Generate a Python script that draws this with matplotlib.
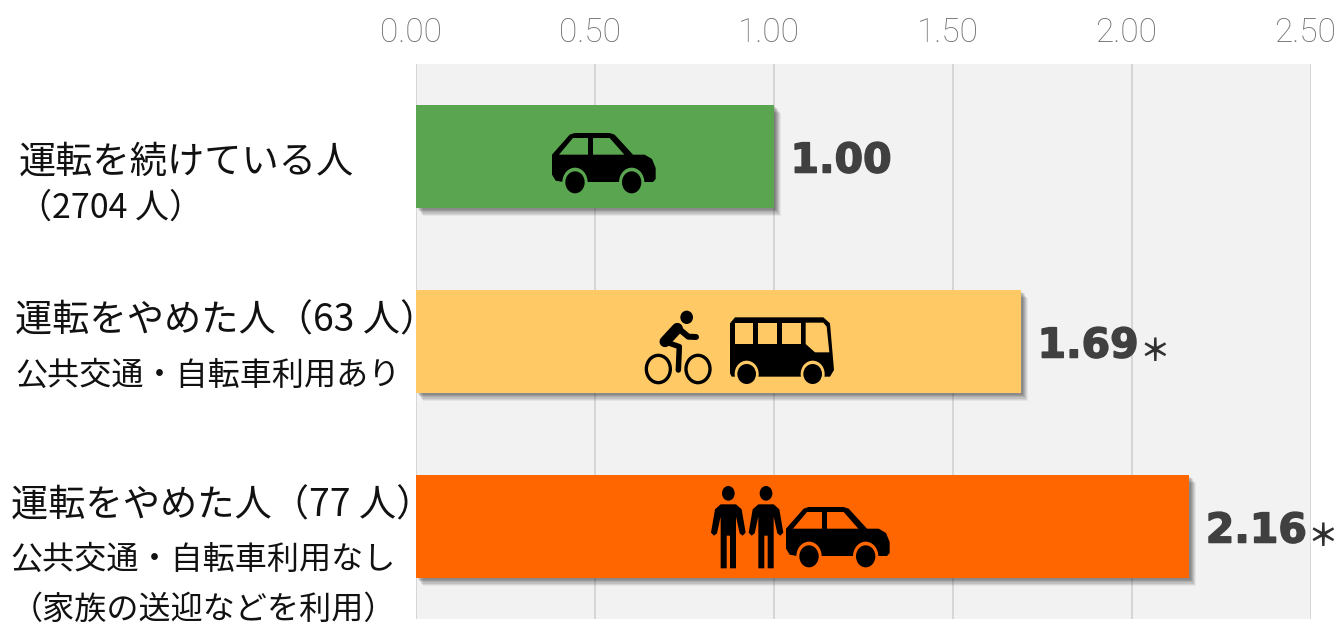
import matplotlib
matplotlib.use("Agg")
import matplotlib.pyplot as plt
import matplotlib.patheffects as pe
from matplotlib.patches import Polygon, Ellipse
from matplotlib.transforms import offset_copy, ScaledTranslation

CJK = ['Noto Sans CJK JP', 'DejaVu Sans']

values = [1.00, 1.69, 2.16]
value_labels = ['1.00', '1.69', '2.16']
significant = [False, True, True]
colors = ['#5aa54f', '#ffca66', '#ff6600']
ticks = [0, 0.5, 1.0, 1.5, 2.0, 2.5]
tick_labels = ['0.00', '0.50', '1.00', '1.50', '2.00', '2.50']
label_lines = [
    ('運転を続けている人', 19, 162, 26.8),
    ('（2704 人）', 18, 208, 24.5),
    ('運転をやめた人（63 人）', 15, 321, 26.8),
    ('公共交通・自転車利用あり', 15, 376, 23.1),
    ('運転をやめた人（77 人）', 11, 506, 26.8),
    ('公共交通・自転車利用なし', 10, 560, 23.1),
    ('（家族の送迎などを利用）', 11, 610, 23.1),
]

W, H = 1338, 624
fig = plt.figure(figsize=(W / 100, H / 100), dpi=100, facecolor='white')
ax = fig.add_axes([416 / W, 1 - 619 / H, (1311 - 416) / W, (619 - 64) / H])
ax.set_facecolor('#f2f2f2')
ax.set_xlim(0, 2.5)
ax.set_ylim(2.5, -0.5)
ax.set_yticks([])
ax.xaxis.tick_top()
ax.set_xticks(ticks, tick_labels, fontsize=24, color='#6e6e6e',
              family=['Roboto', 'DejaVu Sans'], fontweight='light')
ax.tick_params(axis='x', length=0, pad=11)
shift = ScaledTranslation(-5.5 / 100, 0, fig.dpi_scale_trans)
for lab in ax.get_xticklabels():
    lab.set_transform(lab.get_transform() + shift)
ax.grid(axis='x', color='#d4d4d4', lw=1.3, zorder=0)
ax.set_axisbelow(True)
for s in ax.spines.values():
    s.set_visible(False)

shadow = [pe.SimplePatchShadow(offset=(d * 0.72, -d * 0.8), alpha=a, shadow_rgbFace='k')
          for d, a in ((7, 0.05), (6, 0.07), (5, 0.09), (4, 0.1), (3, 0.1), (2, 0.1))] + [pe.Normal()]
bars = ax.barh(range(3), values, height=103 / 185, color=colors, zorder=3)
for b in bars:
    b.set_path_effects(shadow)

heavy = [pe.withStroke(linewidth=1.1, foreground='#404040')]
for i, v in enumerate(values):
    tr = offset_copy(ax.transData, fig=fig, x=16.5 * 0.72, y=-5 * 0.72, units='points')
    ax.text(v, i, value_labels[i], transform=tr, ha='left', va='center', fontsize=29.5,
            fontweight='bold', family='DejaVu Sans', color='#404040', zorder=5,
            clip_on=False, path_effects=heavy)
    if significant[i]:
        tr2 = offset_copy(ax.transData, fig=fig, x=118 * 0.72, y=-10 * 0.72, units='points')
        ax.text(v, i, '＊', transform=tr2, ha='left', va='center', fontsize=22,
                family=CJK, fontweight='bold', color='#303030', zorder=5, clip_on=False)

# overlay in pixel coordinates, for the pictograms and the row captions
ov = fig.add_axes([0, 0, 1, 1], zorder=10)
ov.set_xlim(0, W)
ov.set_ylim(H, 0)
ov.axis('off')

for txt, x, y, fs in label_lines:
    ov.text(x, y, txt, fontsize=fs, family=CJK, color='#111111', ha='left', va='center')


def pts(origin, seq):
    return [(origin[0] + a / 3, origin[1] + b / 3) for a, b in seq]


def poly(origin, seq, fc):
    ov.add_patch(Polygon(pts(origin, seq), closed=True, fc=fc, ec='none'))


def ell(origin, c, rx, ry, fc, ec='none', lw=0):
    (cx, cy), = pts(origin, [c])
    ov.add_patch(Ellipse((cx, cy), 2 * rx / 3, 2 * ry / 3, fc=fc, ec=ec, lw=lw))


def stroke(origin, seq, lw):
    xy = pts(origin, seq)
    ov.plot([p[0] for p in xy], [p[1] for p in xy], color='k', lw=lw * 0.72,
            solid_capstyle='round', solid_joinstyle='round')


def car(x0, y0, bg):
    o = (x0 - 97 / 3, y0 - 100 / 3)
    poly(o, [(97, 165), (150, 105), (165, 100), (270, 100), (285, 105), (340, 165), (375, 165),
             (397, 178), (408, 205), (408, 238), (400, 247), (130, 247), (108, 243), (97, 225)], 'k')
    poly(o, [(118, 165), (160, 115), (205, 115), (205, 165)], bg)
    poly(o, [(220, 115), (270, 115), (314, 165), (220, 165)], bg)
    for cx in (166, 336):
        ell(o, (cx, 248), 38, 44, bg)
        ell(o, (cx, 248), 29, 33, 'k')


def bus(o, bg):
    poly(o, [(330, 100), (345, 82), (610, 82), (630, 100), (642, 240), (630, 260), (335, 260), (330, 250)], 'k')
    for a, b in ((345, 400), (415, 472), (486, 543)):
        poly(o, [(a, 98), (b, 98), (b, 162), (a, 162)], bg)
    poly(o, [(557, 98), (610, 98), (620, 110), (628, 187), (585, 187), (557, 162)], bg)
    for cx in (380, 578):
        ell(o, (cx, 252), 36, 40, bg)
        ell(o, (cx, 252), 28, 30, 'k')


def bike(o):
    ell(o, (200, 82), 19, 20, 'k')
    stroke(o, [(172, 115), (135, 155)], 11)
    stroke(o, [(175, 115), (205, 140), (228, 141)], 6)
    stroke(o, [(135, 155), (178, 170), (175, 240)], 5.5)
    for cx in (115, 234):
        ell(o, (cx, 237), 36, 41, 'none', ec='k', lw=2.4)


def person(dx):
    o = (690 + dx / 3, 470)
    ell(o, (115, 70), 19, 22, 'k')
    poly(o, [(92, 103), (138, 103), (155, 118), (167, 188), (158, 197), (149, 190), (138, 140),
             (138, 295), (120, 295), (120, 197), (110, 197), (110, 295), (92, 295), (92, 140),
             (81, 190), (72, 197), (63, 188), (75, 118)], 'k')


car(552, 133, colors[0])
bike((620, 290))
bus((620, 290), colors[1])
person(0)
person(113)
car(786, 507, colors[2])

fig.savefig('out.png', dpi=100, facecolor='white')
